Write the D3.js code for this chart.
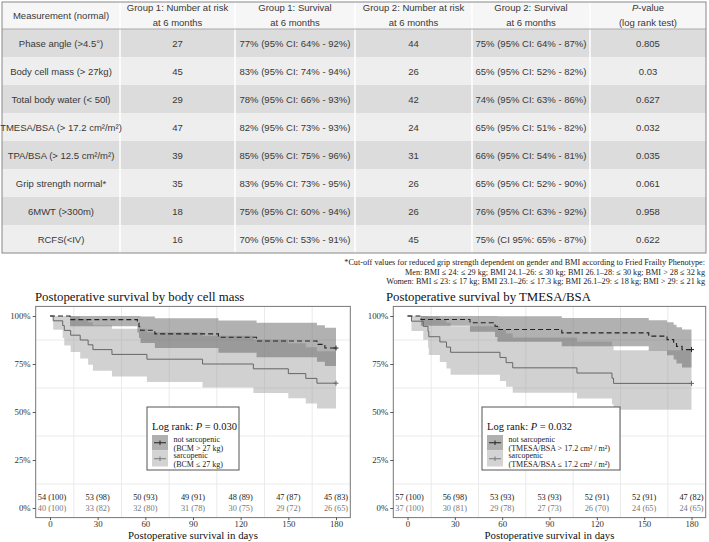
<!DOCTYPE html>
<html><head><meta charset="utf-8">
<script src="https://cdn.jsdelivr.net/npm/d3@7"></script>
<style>body{margin:0;background:#fff}svg{display:block}</style>
</head><body><svg id="c" width="709" height="542"></svg>
<script>
// ---------- TABLE DATA ----------
const measurements = ["Phase angle (>4.5°)","Body cell mass  (> 27kg)","Total body water (< 50l)","TMESA/BSA (> 17.2 cm²/m²)","TPA/BSA (> 12.5 cm²/m²)","Grip strength normal*","6MWT (>300m)","RCFS(<IV)"];
const g1Risk = [27,45,29,47,39,35,18,16];
const g1Surv = ["77% (95% CI: 64% - 92%)","83% (95% CI: 74% - 94%)","78% (95% CI: 66% - 93%)","82% (95% CI: 73% - 93%)","85% (95% CI: 75% - 96%)","83% (95% CI: 73% - 95%)","75% (95% CI: 60% - 94%)","70% (95% CI: 53% - 91%)"];
const g2Risk = [44,26,42,24,31,26,26,45];
const g2Surv = ["75% (95% CI: 64% - 87%)","65% (95% CI: 52% - 82%)","74% (95% CI: 63% - 86%)","65% (95% CI: 51% - 82%)","66% (95% CI: 54% - 81%)","65% (95% CI: 52% - 90%)","76% (95% CI: 63% - 92%)","75% (CI 95%: 65% - 87%)"];
const pValues = ["0.805","0.03","0.627","0.032","0.035","0.061","0.958","0.622"];
const footnotes = ["*Cut-off values for reduced grip strength dependent on gender and BMI according to Fried Frailty Phenotype:",
 "Men: BMI ≤ 24: ≤ 29 kg; BMI 24.1–26: ≤ 30 kg; BMI 26.1–28: ≤ 30 kg; BMI > 28 ≤ 32 kg",
 "Women: BMI ≤ 23: ≤ 17 kg; BMI 23.1–26: ≤ 17.3 kg; BMI 26.1–29: ≤ 18 kg; BMI > 29: ≤ 21 kg"];

// ---------- KM DATA: body cell mass ----------
const dayTicks = [0,30,60,90,120,150,180];
const bcmNotTimes = [0,12.6,55,56,57,66,106,130,168,173];
const bcmNotSurv  = [100,98.1,96.3,94.4,92.6,90.7,88.9,87.0,85.2,83.3];
const bcmNotLower = [100,94.6,91.4,88.5,85.9,83.3,80.9,78.5,76.2,74.0];
const bcmNotUpper = [100,100,100,100,99.8,98.8,97.7,96.5,95.2,93.9];
const bcmSarTimes = [0,2,8,9,13,19,24,27,39,61,96,128,150,161,168];
const bcmSarSurv  = [100,97.5,95,92.5,90,87.5,85,82.5,80,77.5,75,72.5,70,67.5,65];
const bcmSarLower = [100,92.8,88.5,84.7,81.2,77.8,74.6,71.5,68.5,65.6,62.7,59.9,57.1,54.4,51.8];
const bcmSarUpper = [100,100,100,100,99.8,98.4,96.8,95.2,93.4,91.6,89.7,87.7,85.8,83.7,81.6];
const bcmRiskNotN = [54,53,50,49,48,47,45];
const bcmRiskNotPct = [100,98,93,91,89,87,83];
const bcmRiskSarN = [40,33,32,31,30,29,26];
const bcmRiskSarPct = [100,82,80,78,75,72,65];

// ---------- KM DATA: TMESA/BSA ----------
const tmNotTimes = [0,8.5,39.6,55.5,57,97.8,152.9,164.5,168.7,170.5,174];
const tmNotSurv  = [100,98.2,96.5,94.7,93.0,91.2,89.5,87.7,86.0,84.2,82.5];
const tmNotLower = [100,94.9,91.8,89.1,86.6,84.2,81.9,79.6,77.4,75.3,73.2];
const tmNotUpper = [100,100,100,100,99.9,98.9,97.8,96.7,95.5,94.2,93.0];
const tmSarTimes = [0,2.5,10,13,13.5,20.5,24.7,27.3,58.6,62.5,66.7,107.4,129.6,130.6];
const tmSarSurv  = [100,97.3,94.6,91.9,89.2,86.5,83.8,81.1,78.4,75.7,73.0,70.3,67.6,64.9];
const tmSarLower = [100,92.2,87.6,83.5,79.7,76.1,72.7,69.4,66.2,63.1,60.0,57.0,54.1,51.2];
const tmSarUpper = [100,100,100,100,99.8,98.2,96.5,94.7,92.8,90.9,88.8,86.7,84.5,82.2];
const tmRiskNotN = [57,56,53,53,52,52,47];
const tmRiskNotPct = [100,98,93,93,91,91,82];
const tmRiskSarN = [37,30,29,27,26,24,24];
const tmRiskSarPct = [100,81,78,73,70,65,65];

const svg = d3.select("#c");
const SANS = "'Liberation Sans', Arial, sans-serif";
const SERIF = "'Liberation Serif', 'Times New Roman', serif";

// ---------- TABLE ----------
const colX = [2,120,235,355,472,590,706];
const hTop = 2, hBot = 29, rowH = 28;
const tbl = svg.append("g").attr("font-family", SANS).attr("font-size", 9.5).attr("fill", "#383838");
tbl.append("rect").attr("x", colX[0]).attr("y", hTop).attr("width", colX[6]-colX[0]).attr("height", hBot-hTop).attr("fill", "#f6f6f6");
measurements.forEach((m,i)=>{
  tbl.append("rect").attr("x", colX[0]).attr("y", hBot + i*rowH).attr("width", colX[6]-colX[0]).attr("height", rowH)
    .attr("fill", i%2===0 ? "#dcdcdc" : "#eeeeee");
});
const tblBottom = hBot + measurements.length*rowH;
colX.slice(1,6).forEach(x=>{
  tbl.append("line").attr("x1",x).attr("x2",x).attr("y1",hTop).attr("y2",tblBottom).attr("stroke","#fff").attr("stroke-width",1.5);
});
tbl.append("line").attr("x1",colX[0]).attr("x2",colX[6]).attr("y1",hBot).attr("y2",hBot).attr("stroke","#aaa").attr("stroke-width",1);
tbl.append("rect").attr("x",colX[0]).attr("y",hTop).attr("width",colX[6]-colX[0]).attr("height",tblBottom-hTop)
  .attr("fill","none").attr("stroke","#888").attr("stroke-width",1);
const cc = i => (colX[i]+colX[i+1])/2;
tbl.append("text").attr("x", cc(0)).attr("y", 19).attr("text-anchor","middle").text("Measurement (normal)");
const hdr2 = [["Group 1: Number at risk","at 6 months"],["Group 1: Survival","at 6 months"],["Group 2: Number at risk","at 6 months"],["Group 2: Survival","at 6 months"]];
hdr2.forEach((h,k)=>{
  tbl.append("text").attr("x", cc(k+1)).attr("y", 11).attr("text-anchor","middle").text(h[0]);
  tbl.append("text").attr("x", cc(k+1)).attr("y", 26).attr("text-anchor","middle").text(h[1]);
});
const ph = tbl.append("text").attr("x", cc(5)).attr("y", 11).attr("text-anchor","middle");
ph.append("tspan").attr("font-style","italic").text("P");
ph.append("tspan").text("-value");
tbl.append("text").attr("x", cc(5)).attr("y", 26).attr("text-anchor","middle").text("(log rank test)");
measurements.forEach((m,i)=>{
  const yb = hBot + i*rowH + rowH/2 + 3.5;
  const cells = [m, g1Risk[i], g1Surv[i], g2Risk[i], g2Surv[i], pValues[i]];
  cells.forEach((v,k)=>{
    tbl.append("text").attr("x", cc(k)).attr("y", yb).attr("text-anchor","middle").text(v);
  });
});
footnotes.forEach((f,i)=>{
  svg.append("text").attr("x",705).attr("y",265+i*9.5).attr("text-anchor","end")
    .attr("font-family",SERIF).attr("font-size",8.2).attr("fill","#222").text(f);
});

// ---------- KM PLOTS ----------
function stepData(times, surv, lo, hi){
  const pts = times.map((t,i)=>({t:t, s:surv[i], lo:lo[i], hi:hi[i]}));
  const last = pts[pts.length-1];
  pts.push({t:180, s:last.s, lo:last.lo, hi:last.hi});
  return pts;
}
function drawKM(cfg){
  const g = svg.append("g");
  const x = d3.scaleLinear().domain([0,180]).range(cfg.xr);
  const y = d3.scaleLinear().domain([0,100]).range([508,316]);
  const ex = (cfg.xr[1]-cfg.xr[0])*0.05, ey = 192*0.05;
  const L = cfg.xr[0]-ex, R = cfg.xr[1]+ex, T = 316-ey, B = 508+ey;
  g.append("rect").attr("x",L).attr("y",T).attr("width",R-L).attr("height",B-T).attr("fill","#fff");
  [15,45,75,105,135,165].forEach(d=>g.append("line").attr("x1",x(d)).attr("x2",x(d)).attr("y1",T).attr("y2",B).attr("stroke","#e6e6e6").attr("stroke-width",0.8));
  [12.5,37.5,62.5,87.5].forEach(d=>g.append("line").attr("x1",L).attr("x2",R).attr("y1",y(d)).attr("y2",y(d)).attr("stroke","#e6e6e6").attr("stroke-width",0.8));
  const notD = stepData(cfg.notT, cfg.notS, cfg.notL, cfg.notU);
  const sarD = stepData(cfg.sarT, cfg.sarS, cfg.sarL, cfg.sarU);
  const area = d3.area().curve(d3.curveStepAfter).x(d=>x(d.t)).y0(d=>y(d.lo)).y1(d=>y(d.hi));
  const line = d3.line().curve(d3.curveStepAfter).x(d=>x(d.t)).y(d=>y(d.s));
  g.append("path").attr("d",area(sarD)).attr("fill","#999").attr("fill-opacity",0.45);
  g.append("path").attr("d",area(notD)).attr("fill","#646464").attr("fill-opacity",0.5);
  g.append("path").attr("d",line(sarD)).attr("fill","none").attr("stroke","#666").attr("stroke-width",1);
  g.append("path").attr("d",line(notD)).attr("fill","none").attr("stroke","#222").attr("stroke-width",1.1).attr("stroke-dasharray","5,3");
  [[sarD,"#666"],[notD,"#222"]].forEach(([D,c])=>{
    const l = D[D.length-1];
    g.append("path").attr("d",`M${x(l.t)-2.5},${y(l.s)}h5M${x(l.t)},${y(l.s)-2.5}v5`).attr("stroke",c).attr("stroke-width",1);
  });
  dayTicks.forEach((d,i)=>{
    const xx = x(d) + (i===0 ? 2 : 0);
    g.append("text").attr("x",xx).attr("y",500).attr("text-anchor","middle").attr("font-family",SERIF).attr("font-size",8.3).attr("fill","#222")
      .text(`${cfg.rnN[i]} (${cfg.rnP[i]})`);
    g.append("text").attr("x",xx).attr("y",511).attr("text-anchor","middle").attr("font-family",SERIF).attr("font-size",8.3).attr("fill","#777")
      .text(`${cfg.rsN[i]} (${cfg.rsP[i]})`);
  });
  g.append("rect").attr("x",L).attr("y",T).attr("width",R-L).attr("height",B-T).attr("fill","none").attr("stroke","#777").attr("stroke-width",1);
  const ya = g.append("g").attr("transform",`translate(${L},0)`).call(d3.axisLeft(y).tickValues([0,25,50,75,100]).tickFormat(d=>d+"%").tickSize(3).tickPadding(2));
  const xa = g.append("g").attr("transform",`translate(0,${B})`).call(d3.axisBottom(x).tickValues(dayTicks).tickSize(2.5).tickPadding(1));
  [ya,xa].forEach(a=>{
    a.select(".domain").remove();
    a.selectAll("line").attr("stroke","#555");
    a.selectAll("text").attr("font-family",SERIF).attr("font-size",8.8).attr("fill","#333");
  });
  g.append("text").attr("x",cfg.titleX).attr("y",301).attr("font-family",SERIF).attr("font-size",12.8).attr("fill","#111").text(cfg.title);
  g.append("text").attr("x",(L+R)/2).attr("y",539).attr("text-anchor","middle").attr("font-family",SERIF).attr("font-size",10.8).attr("fill","#111").text("Postoperative survival in days");
  const bx = cfg.legX, bw = cfg.legW;
  g.append("rect").attr("x",bx).attr("y",407).attr("width",bw).attr("height",63).attr("fill","#fff").attr("stroke","#555").attr("stroke-width",1);
  const lr = g.append("text").attr("x",bx+5).attr("y",430).attr("font-family",SERIF).attr("font-size",10.5).attr("fill","#111");
  lr.append("tspan").text("Log rank: ");
  lr.append("tspan").attr("font-style","italic").text("P");
  lr.append("tspan").text(" = " + cfg.p);
  const keys = [{y:435, fill:"#b0b0b0", c:"#222"},{y:451, fill:"#d3d3d3", c:"#777"}];
  keys.forEach(k=>{
    g.append("rect").attr("x",bx+5).attr("y",k.y).attr("width",16).attr("height",15.5).attr("fill",k.fill);
    g.append("path").attr("d",`M${bx+7},${k.y+7.75}h12M${bx+13},${k.y+5.5}v4.5`).attr("stroke",k.c).attr("stroke-width",1);
  });
  const labs = [[cfg.l1a,441.5],[cfg.l1b,450.5],[cfg.l2a,458],[cfg.l2b,467]];
  labs.forEach(([t,yy])=>g.append("text").attr("x",bx+26.5).attr("y",yy).attr("font-family",SERIF).attr("font-size",8).attr("fill","#222").text(t));
}

drawKM({xr:[50,336], title:"Postoperative survival by body cell mass", titleX:35,
  notT:bcmNotTimes, notS:bcmNotSurv, notL:bcmNotLower, notU:bcmNotUpper,
  sarT:bcmSarTimes, sarS:bcmSarSurv, sarL:bcmSarLower, sarU:bcmSarUpper,
  rnN:bcmRiskNotN, rnP:bcmRiskNotPct, rsN:bcmRiskSarN, rsP:bcmRiskSarPct,
  p:"0.030", legX:147, legW:92,
  l1a:"not sarcopenic", l1b:"(BCM > 27 kg)", l2a:"sarcopenic", l2b:"(BCM ≤ 27 kg)"});
drawKM({xr:[407.5,691.5], title:"Postoperative survival by TMESA/BSA", titleX:386,
  notT:tmNotTimes, notS:tmNotSurv, notL:tmNotLower, notU:tmNotUpper,
  sarT:tmSarTimes, sarS:tmSarSurv, sarL:tmSarLower, sarU:tmSarUpper,
  rnN:tmRiskNotN, rnP:tmRiskNotPct, rsN:tmRiskSarN, rsP:tmRiskSarPct,
  p:"0.032", legX:482, legW:138,
  l1a:"not sarcopenic", l1b:"(TMESA/BSA > 17.2 cm² / m²)", l2a:"sarcopenic", l2b:"(TMESA/BSA ≤ 17.2 cm² / m²)"});
</script></body></html>
